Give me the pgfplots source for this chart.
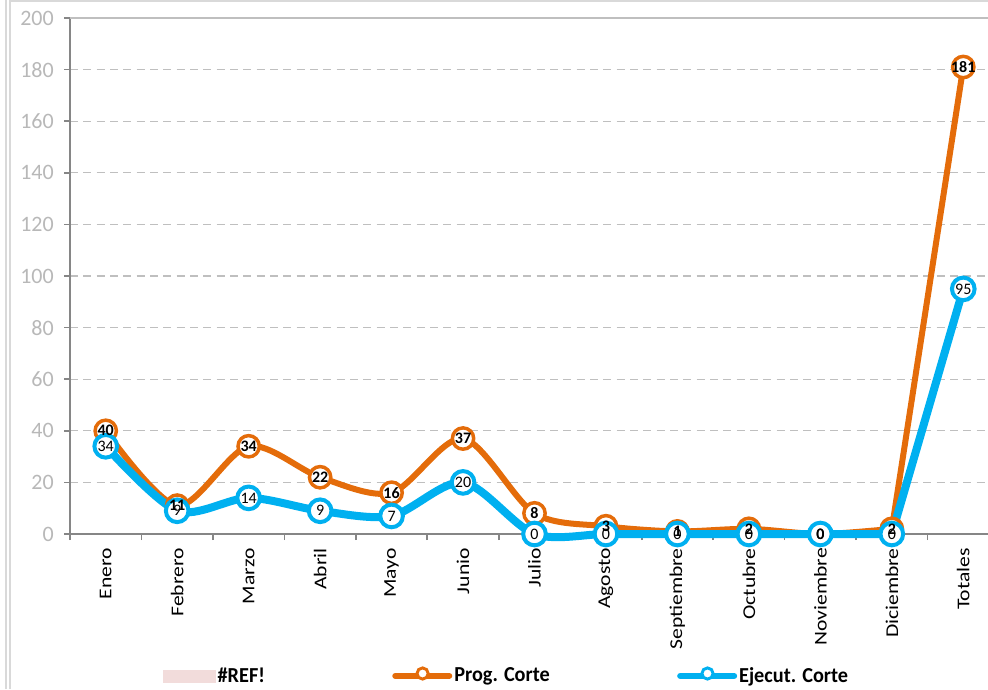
\documentclass[border=0pt]{standalone}
\usepackage{fontspec}
\setmainfont{Carlito}
\newfontfamily\legfont[FakeStretch=0.95]{Carlito}
\newfontfamily\xfont[FakeStretch=1.2]{Carlito}
\usepackage{pgfplots}
\pgfplotsset{compat=1.18}
\definecolor{orng}{HTML}{E46C0A}
\definecolor{sky}{HTML}{00B0F0}
\definecolor{refpink}{HTML}{F2DCDB}
\definecolor{axgray}{HTML}{868686}
\definecolor{gridgray}{HTML}{BFBFBF}
\definecolor{lblgray}{HTML}{B8B8B8}
\definecolor{framegray}{HTML}{D9D9D9}
\begin{document}
\begin{tikzpicture}
\draw[framegray, line width=1pt] (4.5pt,0) -- (4.5pt,516.75pt);
\draw[framegray, line width=1pt] (7.5pt,0) -- (7.5pt,516.75pt);
\draw[framegray, line width=1pt] (7.5pt,516pt) -- (745pt,516pt);
\begin{axis}[
  at={(52.5pt,116.25pt)}, anchor=south west,
  scale only axis, width=696.75pt, height=387pt,
  xmin=-0.5, xmax=12.5, ymin=0, ymax=200,
  clip=false,
  axis lines=left,
  axis line style={-, axgray, line width=1.3pt},
  tick align=outside,
  major tick length=4.5pt,
  tick style={axgray, line width=1.3pt},
  xtick={-0.5,0.5,...,12.5},
  xticklabels={},
  extra x ticks={0,1,2,3,4,5,6,7,8,9,10,11,12},
  extra x tick labels={Enero,Febrero,Marzo,Abril,Mayo,Junio,Julio,Agosto,Septiembre,Octubre,Noviembre,Diciembre,Totales},
  extra x tick style={major tick length=0pt, xmajorgrids=false,
    xticklabel style={rotate=90, anchor=east, inner sep=0pt, black, font=\xfont\fontsize{13.5}{15}\selectfont}},
  xticklabel shift=10.5pt,
  ytick={0,20,...,200},
  ymajorgrids,
  grid style={dashed, gridgray, line width=1pt, dash pattern=on 6pt off 4pt},
  yticklabel style={anchor=east, inner sep=0pt, lblgray, font=\fontsize{16.5}{18}\selectfont},
  yticklabel shift=7.5pt,
  /pgf/number format/assume math mode=true,
  legend columns=3,
  legend style={draw=none, fill=none, at={(0.47,-0.275)}, anchor=center,
    nodes={inner sep=1.5pt},
    font=\legfont\bfseries\fontsize{16}{18}\selectfont,
    /tikz/every even column/.append style={column sep=94pt}},
]
\addlegendimage{legend image code/.code={\fill[refpink] (0pt,-4.5pt) rectangle (39pt,4.5pt);}}
\addlegendentry{\#REF!}
\addlegendimage{legend image code/.code={\draw[orng,line width=4.5pt,line cap=round] (1.5pt,0pt) -- (42pt,0pt); \draw[orng,line width=2.2pt,fill=white] (22pt,1.8pt) circle (4.2pt);}}
\addlegendentry{Prog. Corte}
\addlegendimage{legend image code/.code={\draw[sky,line width=4.5pt,line cap=round] (1.5pt,0pt) -- (42pt,0pt); \draw[sky,line width=2.2pt,fill=white] (22pt,1.8pt) circle (4.2pt);}}
\addlegendentry{Ejecut. Corte}

\draw[gridgray, line width=1pt] (axis cs:-0.5,200) -- (axis cs:12.5,200);

% Prog. Corte
\addplot[forget plot, orng, line width=4.5pt, smooth, tension=0.5, mark=none]
  coordinates {(0,40) (1,11) (2,34) (3,22) (4,16) (5,37) (6,8) (7,3) (8,1) (9,2) (10,0) (11,2)};
\addplot[forget plot, orng, line width=4.5pt, mark=none]
  coordinates {(11,2) (12,181)};
\addplot[forget plot, only marks, mark=*, mark size=8pt,
  mark options={solid, fill=white, draw=orng, line width=2.6pt}]
  coordinates {(0,40) (1,11) (2,34) (3,22) (4,16) (5,37) (6,8) (7,3) (8,1) (9,2) (10,0) (11,2) (12,181)};
% Ejecut. Corte
\addplot[forget plot, sky, line width=6pt, smooth, tension=0.5, mark=none]
  coordinates {(0,34) (1,9) (2,14) (3,9) (4,7) (5,20) (6,0) (7,0) (8,0) (9,0) (10,0) (11,0)};
\addplot[forget plot, sky, line width=6pt, mark=none]
  coordinates {(11,0) (12,95)};
\addplot[forget plot, only marks, mark=*, mark size=8.5pt,
  mark options={solid, fill=white, draw=sky, line width=3pt}]
  coordinates {(0,34) (1,9) (2,14) (3,9) (4,7) (5,20) (6,0) (7,0) (8,0) (9,0) (10,0) (11,0) (12,95)};

\addplot[forget plot, draw=none, mark=none, nodes near coords, nodes near coords align={center},
  every node near coord/.append style={anchor=center, inner sep=0pt, black, font=\fontsize{12}{13}\selectfont\bfseries}]
  coordinates {(0,40) (1,11) (2,34) (3,22) (4,16) (5,37) (6,8) (7,3) (8,1) (9,2) (10,0) (11,2) (12,181)};
\addplot[forget plot, draw=none, mark=none, nodes near coords, nodes near coords align={center},
  every node near coord/.append style={anchor=center, inner sep=0pt, black, font=\fontsize{12}{13}\selectfont}]
  coordinates {(0,34) (1,9) (2,14) (3,9) (4,7) (5,20) (6,0) (7,0) (8,0) (9,0) (10,0) (11,0) (12,95)};
\end{axis}
\pgfresetboundingbox
\useasboundingbox (0,0) rectangle (741pt,516.75pt);
\end{tikzpicture}
\end{document}
